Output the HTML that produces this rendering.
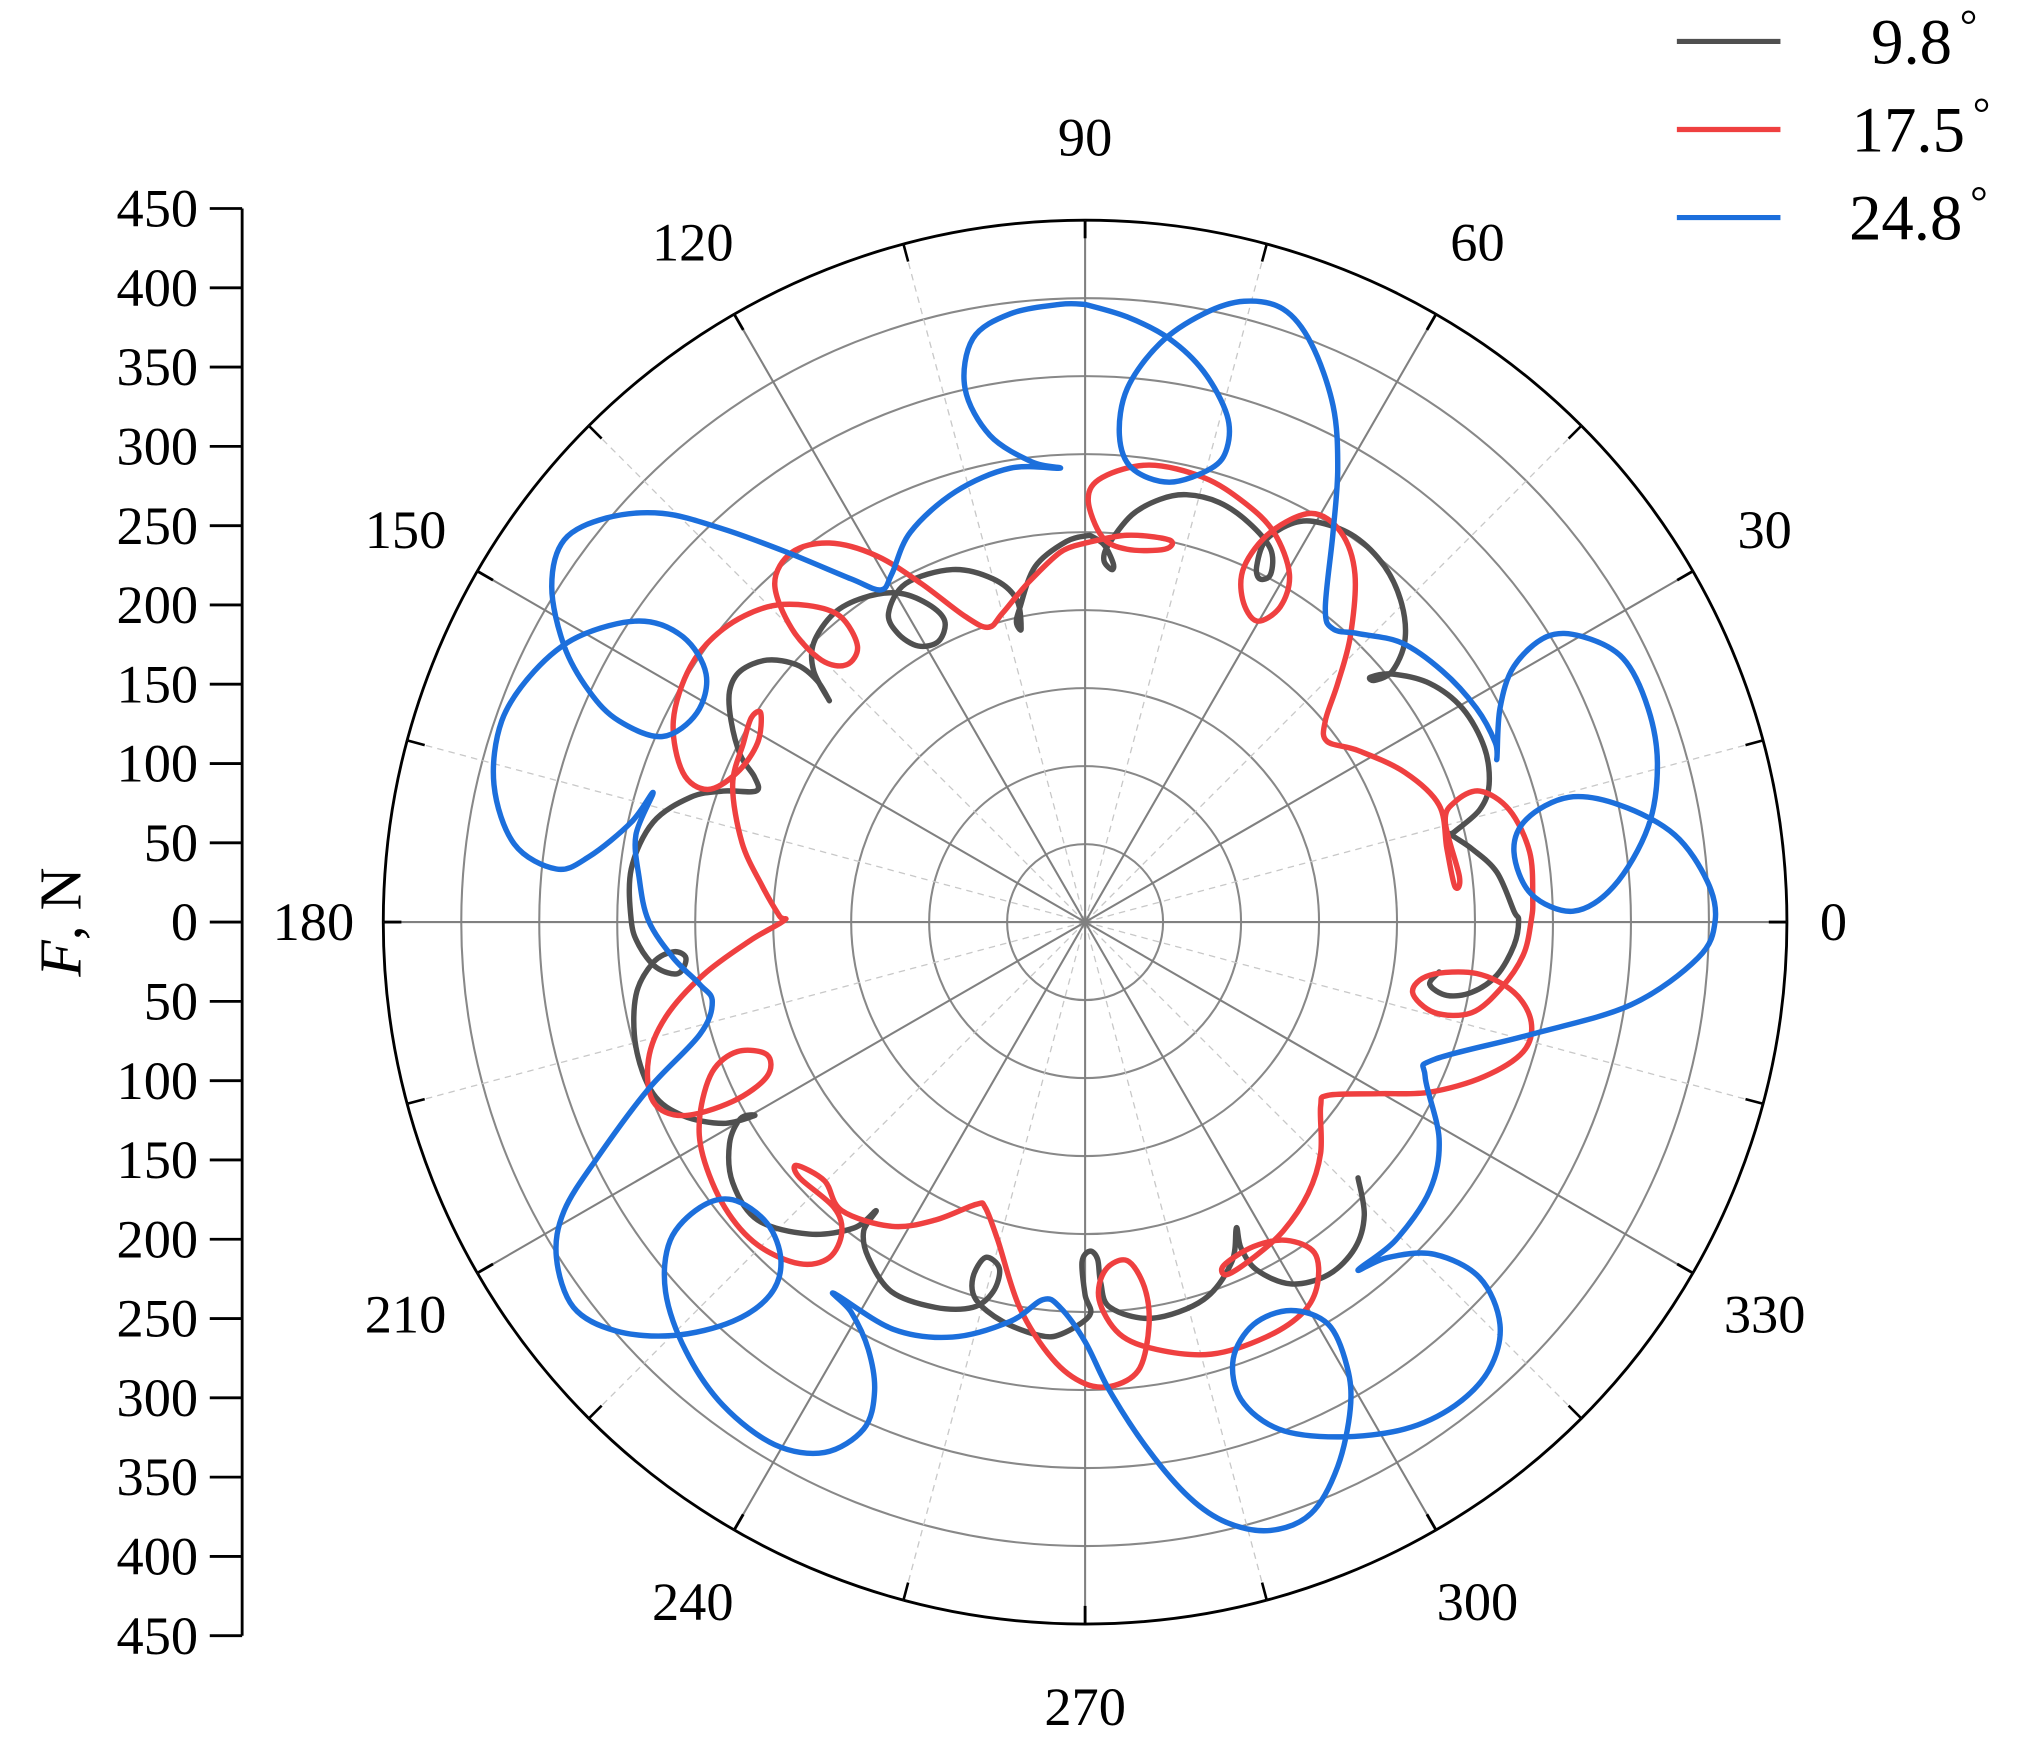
<!DOCTYPE html>
<html><head><meta charset="utf-8"><style>
html,body{margin:0;padding:0;background:#fff;}
svg{display:block;}
text{font-family:"Liberation Serif",serif;fill:#000;}
</style></head><body>
<svg id="chart" width="2020" height="1738" viewBox="0 0 1560 1342" preserveAspectRatio="none" xmlns="http://www.w3.org/2000/svg">
<g id="grid"></g>
<g id="yaxis"></g>
<g id="series"></g>
<g id="legend">
  <line x1="1295" y1="32" x2="1375" y2="32" stroke="#505050" stroke-width="4"/>
  <text x="1445" y="49" font-size="50">9.8<tspan font-size="34" dy="-18" dx="6">°</tspan></text>
  <line x1="1295" y1="100" x2="1375" y2="100" stroke="#ef4040" stroke-width="4"/>
  <text x="1430" y="117" font-size="50">17.5<tspan font-size="34" dy="-18" dx="6">°</tspan></text>
  <line x1="1295" y1="168" x2="1375" y2="168" stroke="#1c6fdc" stroke-width="4"/>
  <text x="1428" y="185" font-size="50">24.8<tspan font-size="34" dy="-18" dx="6">°</tspan></text>
</g>
<text transform="translate(62,712) rotate(-90)" text-anchor="middle" font-size="46"><tspan font-style="italic">F</tspan>, N</text>
</svg>
<script>
const rTicks = [0,50,100,150,200,250,300,350,400,450];
const angleTicks = [0,30,60,90,120,150,180,210,240,270,300,330];
const seriesNames = ["9.8°","17.5°","24.8°"];
// force components Fx, Fy (N); null = gap
const grayFx = [3,12,18,17,12,15,30,48,65,86,105,119,119,112,110,116,134,151,173,192,203,205,197,186,183,197,221,242,256,259,253,237,235,248,264,275,278,275,264,248,232,221,227,null,175,179,173,156,132,110,100,97,94,76,43,16,10,8,3,-2,0,3,-15,-29,-53,-70,-72,-64,-55,-59,-72,-96,-124,-139,-142,-134,-148,-177,-210,-226,-228,-221,-212,-232,-258,-277,-288,-288,-277,-264,-256,-261,-275,-286,-291,-291,-277,-253,-232,-211,-212,-221,-227,-228,-221,-204,-185,-172,-164,-174,-174,-161,-142,-120,-101,-90,-94,-107,-120,-126,-115,-85,-59,-44,-41,-44,-42,-32,-12,3];
const grayFy = [248,242,230,226,232,242,261,271,274,269,256,239,223,220,228,245,256,256,247,228,204,180,161,155,157,159,153,137,112,88,72,58,56,47,32,7,1,-15,-34,-45,-47,-40,-32,null,-164,-188,-209,-226,-232,-223,-209,-196,-218,-242,-254,-247,-231,-216,-211,-218,-239,-252,-264,-265,-256,-242,-228,-215,-222,-237,-247,-247,-237,-215,-198,-185,-196,-200,-191,-167,-142,-126,-124,-129,-124,-110,-80,-47,-26,-19,-23,-33,-29,-15,1,34,64,80,84,84,93,107,129,148,161,168,165,155,142,161,179,198,208,211,204,193,180,177,185,198,217,226,220,207,188,192,201,228,244,248];
const redFx = [0,27,54,51,27,11,2,11,41,76,102,121,131,125,110,101,102,119,145,164,173,170,162,154,155,175,205,227,232,237,240,231,237,253,272,285,287,286,281,267,248,224,210,221,251,275,286,281,256,221,188,156,151,151,143,127,108,91,89,108,129,147,149,140,116,81,46,22,9,13,27,38,41,35,19,0,-21,-42,-56,-64,-70,-96,-124,-156,-167,-185,-183,-161,-156,-164,-183,-210,-231,-245,-247,-239,-223,-204,-204,-226,-258,-277,-280,-269,-245,-215,-193,-196,-207,-220,-226,-219,-214,-208,-210,-223,-242,-258,-264,-253,-232,-204,-178,-157,-146,-153,-169,-188,-199,-188,-164,-134,-105,-77,-62,-53,-37,-16,0];
const redFy = [243,248,245,239,239,247,271,285,293,285,269,250,223,202,193,207,228,250,262,250,223,183,153,129,116,110,96,75,47,23,29,64,77,84,72,45,15,1,-21,-42,-58,-58,-45,-34,-33,-45,-64,-83,-99,-109,-110,-111,-118,-148,-174,-198,-215,-226,-220,-208,-204,-212,-232,-250,-266,-277,-274,-264,-242,-223,-217,-234,-258,-286,-297,-296,-280,-247,-204,-183,-181,-191,-195,-185,-166,-156,-164,-183,-199,-215,-219,-207,-183,-150,-124,-96,-83,-85,-99,-115,-124,-115,-88,-61,-34,-12,1,4,23,51,88,115,131,134,115,96,85,96,129,164,188,202,203,196,177,165,168,188,217,237,243,235,217,196,189,198,217,237,243];
const blueFx = [0,27,54,76,91,91,81,54,30,22,27,48,76,102,127,145,159,162,159,154,159,175,203,229,251,263,264,266,275,296,319,345,361,367,361,339,313,286,275,283,310,343,378,399,404,393,350,286,224,218,227,221,199,175,194,224,253,266,259,237,205,162,124,100,95,108,132,156,168,170,162,145,119,91,67,41,16,0,-16,-27,-48,-85,-123,-161,-150,-139,-135,-142,-167,-199,-232,-256,-269,-266,-247,-226,-204,-195,-202,-226,-264,-301,-328,-339,-334,-312,-280,-247,-239,-247,-264,-280,-286,-288,-277,-291,-318,-339,-366,-379,-374,-353,-325,-286,-258,-243,-249,-271,-299,-318,-334,-342,-334,-307,-271,-232,-191,-150,-131,-124,-112,-83,-48,-16,-34,-61,-77,-72,-48,-16,0];
const blueFy = [396,388,374,353,325,304,291,282,291,312,342,371,390,398,393,371,331,291,250,201,188,185,179,161,137,115,105,137,164,183,183,169,137,101,61,23,7,18,45,66,80,75,56,26,1,-23,-53,-72,-88,-99,-139,-172,-204,-223,-215,-213,-228,-258,-287,-310,-325,-330,-325,-306,-280,-258,-249,-258,-285,-312,-349,-379,-390,-385,-369,-339,-301,-269,-247,-242,-256,-266,-261,-238,-250,-274,-301,-325,-340,-335,-310,-275,-237,-204,-183,-178,-193,-217,-239,-256,-265,-262,-247,-215,-185,-150,-107,-72,-51,-40,-23,1,29,56,83,64,42,34,50,88,129,161,183,193,183,159,134,119,129,148,177,215,245,259,262,252,237,220,213,223,250,276,291,291,295,312,342,374,390,396,396];

const NS="http://www.w3.org/2000/svg";
const cx=838, cy=712, R=542, rMax=450;
function rScale(v){return v/rMax*R;}
function px(fx){return cx+rScale(fx);}
function py(fy){return cy-rScale(fy);}
function mk(tag,attrs,parent){const e=document.createElementNS(NS,tag);for(const k in attrs)e.setAttribute(k,attrs[k]);parent.appendChild(e);return e;}

const grid=document.getElementById('grid');
rTicks.forEach(v=>{ if(v===0)return;
  const c=mk('circle',{cx:cx,cy:cy,r:rScale(v),fill:'none',stroke:v===rMax?'#000':'#888','stroke-width':v===rMax?2.2:1.6},grid);
  
  
});
for(let a=15;a<360;a+=30){
  const t=a*Math.PI/180;
  const l=mk('line',{x1:cx,y1:cy,x2:cx+R*Math.cos(t),y2:cy-R*Math.sin(t),stroke:'#c8c8c8','stroke-width':1,'stroke-dasharray':'5,4'},grid);
  
  
  const tk=mk('line',{x1:cx+(R-14)*Math.cos(t),y1:cy-(R-14)*Math.sin(t),x2:cx+R*Math.cos(t),y2:cy-R*Math.sin(t),stroke:'#000','stroke-width':2},grid);
  
  
}
angleTicks.forEach(a=>{
  const t=a*Math.PI/180;
  const l=mk('line',{x1:cx,y1:cy,x2:cx+R*Math.cos(t),y2:cy-R*Math.sin(t),stroke:'#808080','stroke-width':1.6},grid);
  
  
  const tk=mk('line',{x1:cx+(R-14)*Math.cos(t),y1:cy-(R-14)*Math.sin(t),x2:cx+R*Math.cos(t),y2:cy-R*Math.sin(t),stroke:'#000','stroke-width':2.2},grid);
  
  
  const lr = a===0?578:(a===180?596:606);
  const tx=mk('text',{x:cx+lr*Math.cos(t),y:cy-lr*Math.sin(t)+14,'text-anchor':'middle','font-size':42},grid);
  tx.textContent=a;
  
  
});

const ya=document.getElementById('yaxis');
const axX=187, step=551/9;
const al=mk('line',{x1:axX,y1:cy-9*step,x2:axX,y2:cy+9*step,stroke:'#000','stroke-width':2.2},ya);


[-1,1].forEach(s=>{
  rTicks.forEach((v,i)=>{
    if(s===1&&v===0)return;
    const y=cy+s*i*step;
    const t=mk('line',{x1:axX-25,y1:y,x2:axX,y2:y,stroke:'#000','stroke-width':2.2},ya);
    
    
    const tx=mk('text',{x:153,y:y+14,'text-anchor':'end','font-size':42},ya);
    tx.textContent=v;
    
    
  });
});

function pathFrom(fx,fy){
  let d='';let seg=[];
  const flush=()=>{
    if(seg.length<2){seg=[];return;}
    d+='M'+seg[0][0].toFixed(1)+','+seg[0][1].toFixed(1);
    for(let i=0;i<seg.length-1;i++){
      const p0=seg[Math.max(i-1,0)],p1=seg[i],p2=seg[i+1],p3=seg[Math.min(i+2,seg.length-1)];
      const c1x=p1[0]+(p2[0]-p0[0])/6,c1y=p1[1]+(p2[1]-p0[1])/6;
      const c2x=p2[0]-(p3[0]-p1[0])/6,c2y=p2[1]-(p3[1]-p1[1])/6;
      d+='C'+c1x.toFixed(1)+','+c1y.toFixed(1)+' '+c2x.toFixed(1)+','+c2y.toFixed(1)+' '+p2[0].toFixed(1)+','+p2[1].toFixed(1);
    }
    seg=[];
  };
  for(let i=0;i<fx.length;i++){
    if(fx[i]===null||fy[i]===null){flush();continue;}
    seg.push([px(fx[i]),py(fy[i])]);
  }
  flush();
  return d;
}
const sg=document.getElementById('series');
const defs=[[grayFx,grayFy,'#505050','series-9-8'],[redFx,redFy,'#ef4040','series-17-5'],[blueFx,blueFy,'#1c6fdc','series-24-8']];
defs.forEach(s=>{
  const p=mk('path',{d:pathFrom(s[0],s[1]),fill:'none',stroke:s[2],'stroke-width':4.2,'stroke-linejoin':'round','stroke-linecap':'round'},sg);
  
  
});
</script>
</body></html>
